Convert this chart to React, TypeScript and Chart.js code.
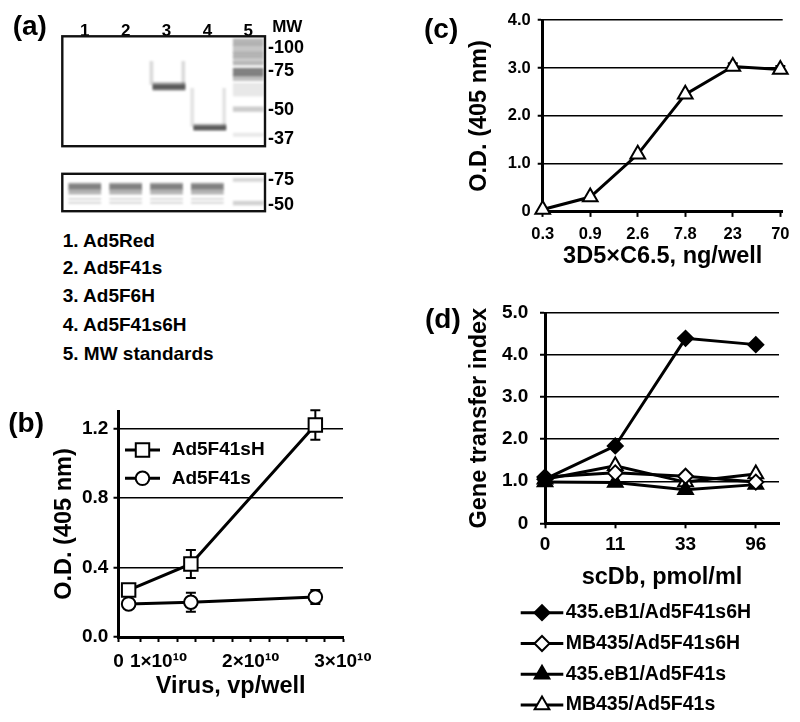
import React, { useEffect, useRef } from 'react';
import { Chart, registerables } from 'chart.js';
import { drawPoint } from 'chart.js/helpers';

Chart.register(...registerables);

const FONT = '"Liberation Sans", Arial, Helvetica, "DejaVu Sans", sans-serif';
Chart.defaults.font.family = FONT;
Chart.defaults.font.weight = 'bold' as any;
Chart.defaults.color = '#000';

// ---------------- (a) blot ----------------
const laneIds = [1, 2, 3, 4, 5];
const laneLabels = ['1', '2', '3', '4', '5'];
const sampleNames = ['1. Ad5Red', '2. Ad5F41s', '3. Ad5F6H', '4. Ad5F41s6H', '5. MW standards'];

// migration distance from top of each blot
const upperMwAt = [12.7, 37, 79.4, 110.7];
const upperMwLabels = ['-100', '-75', '-50', '-37'];
const lowerMwAt = [9.5, 48.3];
const lowerMwLabels = ['-75', '-50'];

const upperBandLane = [3, 3, 4, 4];
const upperBandFrom = [49.5, 52, 94.5, 96.5];
const upperBandTo = [58.4, 57, 101.7, 100.5];
const upperBandInt = [0.3, 0.6, 0.3, 0.6];

const upperSmearLane = [2.63, 3.41, 3.63, 4.41];
const upperSmearFrom = [27, 27, 56, 56];
const upperSmearTo = [52, 52, 97, 97];
const upperSmearInt = [0.16, 0.16, 0.12, 0.12];

const upperLadderFrom = [2.7, 9.4, 17.7, 22.7, 27.7, 34.4, 42.7, 50.7, 76, 104.4];
const upperLadderTo = [9.4, 17.7, 22.7, 27.7, 31, 42.7, 47.7, 64.4, 81, 107.7];
const upperLadderInt = [0.32, 0.25, 0.32, 0.22, 0.3, 0.55, 0.28, 0.1, 0.22, 0.1];

const lowerSampleLanes = [1, 2, 3, 4];
const lowerBandFrom = [14.5, 16, 24.3, 38.5, 44.5];
const lowerBandTo = [16, 24.3, 32, 40.3, 46.3];
const lowerBandInt = [0.25, 0.55, 0.32, 0.18, 0.18];
const lowerLadderFrom = [7, 43];
const lowerLadderTo = [12, 49];
const lowerLadderInt = [0.18, 0.2];

// ---------------- (b) ----------------
const bX = [0.675e10, 1.35e10, 2.7e10];
const bSquare = [0.27, 0.42, 1.22];
const bSquareErr = [0.02, 0.08, 0.085];
const bCircle = [0.19, 0.2, 0.23];
const bCircleErr = [0.02, 0.055, 0.04];
const bXTicks = [0.565e10, 0.8e10, 1e10, 1.2e10, 1.4e10, 1.6e10, 1.8e10, 2e10, 2.2e10, 2.4e10, 2.6e10, 2.8e10, 3e10];
const bXTickLabels = ['0', '', '1×10¹⁰', '', '', '', '', '2×10¹⁰', '', '', '', '', '3×10¹⁰'];
const bYTicks = [0, 0.4, 0.8, 1.2];
const bYTickLabels = ['0.0', '0.4', '0.8', '1.2'];

// ---------------- (c) ----------------
const cCategories = ['0.3', '0.9', '2.6', '7.8', '23', '70'];
const cPos = [0, 1, 2, 3, 4, 5];
const cValues = [0.05, 0.31, 1.2, 2.45, 3.03, 2.97];
const cErr = [0, 0, 0, 0, 0.07, 0.07];
const cYTicks = [0, 1, 2, 3, 4];
const cYTickLabels = ['0', '1.0', '2.0', '3.0', '4.0'];

// ---------------- (d) ----------------
const dCategories = ['0', '11', '33', '96'];
const dPos = [0, 1, 2, 3];
const d435s6H = [1.05, 1.84, 4.4, 4.25];
const dMB435s6H = [1.1, 1.2, 1.12, 0.98];
const d435s = [0.98, 0.97, 0.8, 0.92];
const dMB435s = [1.05, 1.37, 0.98, 1.17];
const dYTicks = [0, 1, 2, 3, 4, 5];
const dYTickLabels = ['0', '1.0', '2.0', '3.0', '4.0', '5.0'];

// ---------------- helpers ----------------
const ink = (a: number) => `rgba(25,25,25,${a})`;

const errorBarsPlugin = {
  id: 'errorBars',
  beforeDatasetsDraw(chart: any) {
    const { ctx, scales } = chart;
    const x = scales.x, y = scales.y;
    ctx.save();
    ctx.strokeStyle = '#000';
    ctx.lineWidth = 2;
    chart.data.datasets.forEach((ds: any) => {
      if (!ds.errors) return;
      ds.data.forEach((p: any, i: number) => {
        const e = ds.errors[i];
        if (!e) return;
        const px = x.getPixelForValue(p.x);
        const t = y.getPixelForValue(p.y + e);
        const b = y.getPixelForValue(p.y - e);
        ctx.beginPath();
        ctx.moveTo(px, t); ctx.lineTo(px, b);
        ctx.moveTo(px - 5, t); ctx.lineTo(px + 5, t);
        ctx.moveTo(px - 5, b); ctx.lineTo(px + 5, b);
        ctx.stroke();
      });
    });
    ctx.restore();
  },
};

const lineLegendPlugin = {
  id: 'lineLegend',
  afterDraw(chart: any, _a: any, o: any) {
    if (!o || !o.show) return;
    const { ctx, chartArea } = chart;
    ctx.save();
    chart.data.datasets.forEach((ds: any, i: number) => {
      const y = (o.anchor === 'bottom' ? chartArea.bottom : chartArea.top) + o.dy + i * o.rowGap;
      const x0 = chartArea.left + o.dx;
      ctx.strokeStyle = '#000';
      ctx.lineWidth = 3;
      ctx.beginPath();
      ctx.moveTo(x0, y);
      ctx.lineTo(x0 + o.lineLen, y);
      ctx.stroke();
      ctx.fillStyle = ds.pointBackgroundColor;
      ctx.strokeStyle = '#000';
      ctx.lineWidth = 2;
      drawPoint(ctx, { pointStyle: ds.pointStyle, radius: ds.pointRadius, rotation: 0, borderWidth: 2 } as any, x0 + o.lineLen / 2, y);
      ctx.fillStyle = '#000';
      ctx.font = `bold ${o.fontSize}px ${FONT}`;
      ctx.textBaseline = 'middle';
      ctx.textAlign = 'left';
      ctx.fillText(ds.label, x0 + o.lineLen + o.gap, y);
    });
    ctx.restore();
  },
};

const gelFrame = {
  id: 'gelFrame',
  afterDraw(chart: any) {
    const { ctx, chartArea: a } = chart;
    ctx.save();
    ctx.strokeStyle = '#111';
    ctx.lineWidth = 2.4;
    ctx.strokeRect(a.left, a.top, a.right - a.left, a.bottom - a.top);
    ctx.restore();
  },
};

const gelBlur = {
  id: 'gelBlur',
  beforeDatasetsDraw(chart: any) { chart.ctx.save(); chart.ctx.filter = 'blur(1px)'; },
  afterDatasetsDraw(chart: any) { chart.ctx.restore(); },
};

function yAxis(o: any) {
  return {
    type: 'linear', position: 'left', min: o.min, max: o.max,
    afterBuildTicks: (s: any) => { s.ticks = o.ticks.map((v: number) => ({ value: v })); },
    afterFit: (s: any) => { s.width = o.width; },
    ticks: { autoSkip: false, padding: o.pad, font: { size: o.font, weight: 'bold' }, color: '#000', callback: (_v: any, i: number) => o.labels[i] },
    grid: { color: '#000', lineWidth: 1.5, drawTicks: true, tickLength: 5, tickWidth: 2, tickColor: '#000' },
    border: { color: '#000', width: 3 },
    title: { display: true, text: o.title, font: { size: 23.5, weight: 'bold' }, padding: 0, color: '#000' },
  };
}

function xAxis(o: any) {
  return {
    type: 'linear', position: 'bottom', min: o.min, max: o.max, offset: false,
    afterBuildTicks: (s: any) => { s.ticks = o.ticks.map((v: number) => ({ value: v })); },
    afterFit: (s: any) => { s.height = o.height; },
    ticks: { autoSkip: false, maxRotation: 0, padding: o.pad, font: { size: o.font, weight: 'bold' }, color: '#000', callback: (_v: any, i: number) => o.labels[i] },
    grid: { display: true, drawOnChartArea: false, drawTicks: true, tickLength: 5, tickWidth: 2, tickColor: '#000', color: '#000' },
    border: { color: '#000', width: 3 },
    title: { display: true, text: o.title, font: { size: 23.5, weight: 'bold' }, padding: 0, color: '#000' },
  };
}

function lineSet(label: string, xs: number[], ys: number[], style: string, radius: number, filled: boolean, errors?: number[]) {
  return {
    label,
    data: xs.map((x, i) => ({ x, y: ys[i] })),
    borderColor: '#000',
    borderWidth: 3,
    pointStyle: style,
    pointRadius: radius,
    pointHoverRadius: radius,
    pointBackgroundColor: filled ? '#000' : '#fff',
    pointBorderColor: '#000',
    pointBorderWidth: 2,
    tension: 0,
    fill: false,
    clip: false,
    errors,
  };
}

const baseOptions = (padding: any) => ({
  animation: false,
  responsive: false,
  events: [],
  layout: { padding },
  plugins: { legend: { display: false }, tooltip: { enabled: false } },
});

// ---------------- configs ----------------
const upperGelConfig = () => ({
  type: 'bar',
  data: {
    datasets: [
      { label: 'bands', data: upperBandLane.map((l, i) => ({ x: l + 0.06, y: [upperBandFrom[i], upperBandTo[i]] })), backgroundColor: upperBandInt.map(ink), barThickness: 32, grouped: false, borderWidth: 0 },
      { label: 'smear', data: upperSmearLane.map((l, i) => ({ x: l, y: [upperSmearFrom[i], upperSmearTo[i]] })), backgroundColor: upperSmearInt.map(ink), barThickness: 3, grouped: false, borderWidth: 0 },
      { label: 'ladder', data: upperLadderFrom.map((f, i) => ({ x: 5, y: [f, upperLadderTo[i]] })), backgroundColor: upperLadderInt.map(ink), barThickness: 30, grouped: false, borderWidth: 0 },
    ],
  },
  options: {
    ...baseOptions({ left: 22.3, top: 0, right: 5, bottom: 5.3 }),
    scales: {
      x: {
        type: 'linear', position: 'top', offset: false, min: 0.45, max: 5.41,
        grid: { display: false, drawTicks: false }, border: { display: false },
        afterBuildTicks: (s: any) => { s.ticks = laneIds.map((v) => ({ value: v })); },
        afterFit: (s: any) => { s.height = 36.3; },
        ticks: { autoSkip: false, maxRotation: 0, padding: -5, font: { size: 17, weight: 'bold' }, color: '#000', callback: (_v: any, i: number) => laneLabels[i] },
      },
      y: {
        type: 'linear', position: 'right', reverse: true, min: 0, max: 118.4,
        grid: { display: false, drawTicks: false }, border: { display: false },
        afterBuildTicks: (s: any) => { s.ticks = upperMwAt.map((v) => ({ value: v })); },
        afterFit: (s: any) => { s.width = 60; },
        ticks: { autoSkip: false, padding: 3, font: { size: 18, weight: 'bold' }, color: '#000', callback: (_v: any, i: number) => upperMwLabels[i] },
      },
    },
  },
  plugins: [gelBlur, gelFrame],
});

const lowerGelConfig = () => {
  const sample: any[] = [];
  const sampleInk: string[] = [];
  lowerSampleLanes.forEach((l) => {
    lowerBandFrom.forEach((f, j) => {
      sample.push({ x: l, y: [f, lowerBandTo[j]] });
      sampleInk.push(ink(lowerBandInt[j]));
    });
  });
  return {
    type: 'bar',
    data: {
      datasets: [
        { label: 'bands', data: sample, backgroundColor: sampleInk, barThickness: 32, grouped: false, borderWidth: 0 },
        { label: 'ladder', data: lowerLadderFrom.map((f, i) => ({ x: 5, y: [f, lowerLadderTo[i]] })), backgroundColor: lowerLadderInt.map(ink), barThickness: 30, grouped: false, borderWidth: 0 },
      ],
    },
    options: {
      ...baseOptions({ left: 22.3, top: 2, right: 5, bottom: 4.3 }),
      scales: {
        x: { type: 'linear', display: false, offset: false, min: 0.45, max: 5.41 },
        y: {
          type: 'linear', position: 'right', reverse: true, min: 0, max: 58.7,
          grid: { display: false, drawTicks: false }, border: { display: false },
          afterBuildTicks: (s: any) => { s.ticks = lowerMwAt.map((v) => ({ value: v })); },
          afterFit: (s: any) => { s.width = 60; },
          ticks: { autoSkip: false, padding: 3, font: { size: 18, weight: 'bold' }, color: '#000', callback: (_v: any, i: number) => lowerMwLabels[i] },
        },
      },
    },
    plugins: [gelBlur, gelFrame],
  };
};

const bConfig = () => ({
  type: 'line',
  data: {
    datasets: [
      lineSet('Ad5F41sH', bX, bSquare, 'rect', 9.5, false, bSquareErr),
      lineSet('Ad5F41s', bX, bCircle, 'circle', 6.8, false, bCircleErr),
    ],
  },
  options: {
    ...baseOptions({ left: 50.9, top: 21, right: 57, bottom: 21.2 }),
    plugins: {
      legend: { display: false }, tooltip: { enabled: false },
      lineLegend: { show: true, anchor: 'top', dx: 6.5, dy: 39, rowGap: 28.3, lineLen: 35, gap: 11.7, fontSize: 19 },
    },
    scales: {
      x: xAxis({ min: 0.565e10, max: 3e10, ticks: bXTicks, labels: bXTickLabels, height: 63.8, pad: 8.4, font: 19, title: 'Virus, vp/well' }),
      y: yAxis({ min: 0, max: 1.3, ticks: bYTicks, labels: bYTickLabels, width: 67.6, pad: 5.2, font: 19, title: 'O.D. (405 nm)' }),
    },
  },
  plugins: [errorBarsPlugin, lineLegendPlugin],
});

const cConfig = () => ({
  type: 'line',
  data: {
    datasets: [lineSet('3D5×C6.5', cPos, cValues, 'triangle', 8.5, false, cErr)],
  },
  options: {
    ...baseOptions({ left: 65.2, top: 20, right: 17.3, bottom: 0 }),
    scales: {
      x: xAxis({ min: 0, max: 5.05, ticks: cPos, labels: cCategories, height: 59.1, pad: 7.4, font: 16.5, title: '3D5×C6.5, ng/well' }),
      y: yAxis({ min: 0, max: 4, ticks: cYTicks, labels: cYTickLabels, width: 77.5, pad: 7, font: 16.5, title: 'O.D. (405 nm)' }),
    },
  },
  plugins: [errorBarsPlugin],
});

const dConfig = () => ({
  type: 'line',
  data: {
    datasets: [
      lineSet('435.eB1/Ad5F41s6H', dPos, d435s6H, 'rectRot', 7.5, true),
      lineSet('MB435/Ad5F41s6H', dPos, dMB435s6H, 'rectRot', 7.5, false),
      lineSet('435.eB1/Ad5F41s', dPos, d435s, 'triangle', 8.5, true),
      lineSet('MB435/Ad5F41s', dPos, dMB435s, 'triangle', 8.5, false),
    ],
  },
  options: {
    ...baseOptions({ left: 65.9, top: 21.3, right: 21, bottom: 130.6 }),
    plugins: {
      legend: { display: false }, tooltip: { enabled: false },
      lineLegend: { show: true, anchor: 'bottom', dx: -24.3, dy: 89.4, rowGap: 30.8, lineLen: 42.6, gap: 2.4, fontSize: 19.5 },
    },
    scales: {
      x: xAxis({ min: 0, max: 3.33, ticks: dPos, labels: dCategories, height: 68.1, pad: 5.3, font: 19, title: 'scDb, pmol/ml' }),
      y: yAxis({ min: 0, max: 5, ticks: dYTicks, labels: dYTickLabels, width: 79.1, pad: 11.7, font: 19, title: 'Gene transfer index' }),
    },
  },
  plugins: [lineLegendPlugin],
});

// ---------------- components ----------------
function ChartBox({ left, top, width, height, make }: { left: number; top: number; width: number; height: number; make: () => any }) {
  const ref = useRef<HTMLCanvasElement>(null);
  useEffect(() => {
    const chart = new Chart(ref.current as HTMLCanvasElement, make());
    return () => chart.destroy();
  }, []);
  return <canvas ref={ref} width={width} height={height} style={{ position: 'absolute', left, top, width, height }} />;
}

function Txt({ text, left, top, size }: { text: string; left: number; top: number; size: number }) {
  return (
    <div style={{ position: 'absolute', left, top, fontSize: size, lineHeight: `${size}px`, fontWeight: 'bold', whiteSpace: 'nowrap', fontFamily: FONT, color: '#000' }}>
      {text}
    </div>
  );
}

const listTops = [230.7, 257.7, 285.7, 314.7, 343.7];

export default function App() {
  return (
    <div style={{ position: 'absolute', left: 0, top: 0, width: 800, height: 722, background: '#fff', overflow: 'hidden', fontFamily: FONT }}>
      <ChartBox left={40} top={0} width={290} height={160} make={upperGelConfig} />
      <ChartBox left={40} top={160} width={290} height={65} make={lowerGelConfig} />
      <ChartBox left={0} top={390} width={400} height={332} make={bConfig} />
      <ChartBox left={400} top={0} width={400} height={271} make={cConfig} />
      <ChartBox left={400} top={290} width={400} height={432} make={dConfig} />

      <Txt text="(a)" left={12.7} top={11.6} size={28} />
      <Txt text="(b)" left={8.3} top={408.6} size={28} />
      <Txt text="(c)" left={424} top={14.6} size={28} />
      <Txt text="(d)" left={425} top={304.6} size={28} />
      <Txt text="MW" left={272.2} top={17.7} size={17} />
      {sampleNames.map((s, i) => (
        <Txt key={s} text={s} left={62.7} top={listTops[i]} size={19} />
      ))}
    </div>
  );
}
